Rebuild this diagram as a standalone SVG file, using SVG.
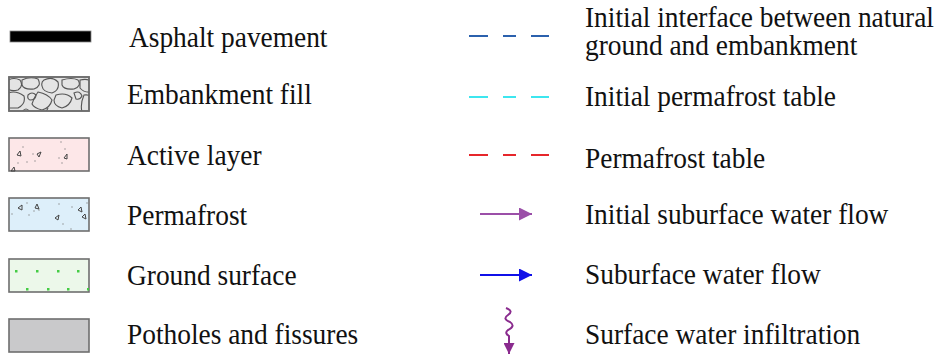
<svg xmlns="http://www.w3.org/2000/svg" width="939" height="354" viewBox="0 0 939 354">
<style>
.t{font-family:"Liberation Serif","Times New Roman",serif;font-size:27.4px;fill:#111}
.box{stroke:#6e6e6e;stroke-width:1.6}
.rock{fill:none;stroke:#555;stroke-width:1.1}
.tri{fill:none;stroke:#444;stroke-width:1}
.dot{fill:#888}
.gdot{fill:#44cc44}
</style>
<defs>
<clipPath id="ce"><rect x="9" y="77" width="80" height="34"/></clipPath>
<marker id="mp" viewBox="0 0 10 10" refX="10" refY="5" markerWidth="14" markerHeight="13" markerUnits="userSpaceOnUse" orient="auto"><path d="M0,0L10,5L0,10Z" fill="#9b4fa8"/></marker>
<marker id="mb" viewBox="0 0 10 10" refX="10" refY="5" markerWidth="14" markerHeight="13" markerUnits="userSpaceOnUse" orient="auto"><path d="M0,0L10,5L0,10Z" fill="#1010e8"/></marker>
<marker id="mw" viewBox="0 0 10 10" refX="10" refY="5" markerWidth="14" markerHeight="11" markerUnits="userSpaceOnUse" orient="auto"><path d="M0,0L10,5L0,10Z" fill="#8a2b8e"/></marker>
</defs>

<g id="asphalt">
<rect x="10" y="31" width="81" height="11" fill="#000" stroke="#888" stroke-width="0.8"/>
<text class="t" transform="matrix(1 0 0 1.08 129 47)">Asphalt pavement</text>
</g>

<g id="embankment">
<rect x="9" y="77" width="80" height="34" fill="#e4e4e4" class="box"/>
<g clip-path="url(#ce)" class="rock">
<path d="M8,80 Q14,77 20,80 Q24,86 18,90 Q10,92 8,88"/>
<path d="M22,80 Q30,76 38,79 Q42,86 34,89 Q24,90 22,85Z"/>
<path d="M44,80 Q52,76 58,82 Q60,90 52,93 Q43,92 42,86 Q41,82 44,80Z"/>
<path d="M62,80 Q72,77 78,80 Q82,86 74,89 Q64,90 62,85Z"/>
<path d="M80,80 Q88,78 92,82 L92,92 Q84,93 80,88Z"/>
<path d="M8,93 Q16,90 24,96 Q26,104 18,108 L8,108"/>
<path d="M28,95 Q32,91 36,95 Q36,100 30,100 Q27,99 28,95Z"/>
<path d="M38,92 Q48,94 52,100 Q50,108 42,110 Q34,108 32,104 Q34,97 38,92Z"/>
<path d="M56,95 Q66,92 72,98 Q70,106 62,108 Q54,106 54,100Z"/>
<path d="M74,93 Q80,90 82,96 Q80,100 76,99Z"/>
<path d="M84,95 Q92,94 92,100 L92,112 L82,112 Q80,104 84,95Z"/>
<path d="M22,112 Q26,106 30,112"/>
<path d="M46,112 L48,108"/>
</g>
<rect x="9" y="77" width="80" height="34" fill="none" class="box"/>
<text class="t" transform="matrix(1 0 0 1.08 127 104)">Embankment fill</text>
</g>

<g id="active">
<rect x="9" y="138" width="80" height="33" fill="#fde7e8" class="box"/>
<path class="tri" d="M17,155 L20,151 L21,156Z M37,154 L41,152 L39,157Z M64,158 L67,154 L67,159Z M11,171 L14,167 L15,171Z"/>
<circle class="dot" cx="23" cy="147" r="0.7"/><circle class="dot" cx="33" cy="154" r="0.7"/>
<circle class="dot" cx="18" cy="163" r="0.7"/><circle class="dot" cx="27" cy="162" r="0.7"/>
<circle class="dot" cx="35" cy="161" r="0.7"/><circle class="dot" cx="61" cy="142" r="0.7"/>
<circle class="dot" cx="65" cy="149" r="0.7"/><circle class="dot" cx="59" cy="158" r="0.7"/>
<circle class="dot" cx="62" cy="163" r="0.7"/>
<text class="t" transform="matrix(1 0 0 1.08 127 165)">Active layer</text>
</g>

<g id="permafrost">
<rect x="9" y="198" width="80" height="33" fill="#ddeffa" class="box"/>
<path class="tri" d="M18,208 L22,205 L22,210Z M35,208 L37,204 L39,209Z M55,218 L59,215 L58,220Z M78,210 L81,207 L82,212Z M82,217 L85,214 L86,219Z"/>
<circle class="dot" cx="27" cy="203" r="0.7"/><circle class="dot" cx="29" cy="215" r="0.7"/>
<circle class="dot" cx="34" cy="211" r="0.7"/><circle class="dot" cx="39" cy="210" r="0.7"/>
<circle class="dot" cx="59" cy="204" r="0.7"/><circle class="dot" cx="72" cy="207" r="0.7"/>
<circle class="dot" cx="63" cy="224" r="0.7"/><circle class="dot" cx="71" cy="229" r="0.7"/>
<circle class="dot" cx="12" cy="214" r="0.7"/><circle class="dot" cx="87" cy="203" r="0.7"/>
<text class="t" transform="matrix(1 0 0 1.08 127 225)">Permafrost</text>
</g>

<g id="ground">
<rect x="9" y="259" width="80" height="33" fill="#ecf8ea" class="box"/>
<rect class="gdot" x="15" y="270" width="2.5" height="2.5"/><rect class="gdot" x="36" y="270" width="2.5" height="2.5"/>
<rect class="gdot" x="57" y="270" width="2.5" height="2.5"/><rect class="gdot" x="77" y="270" width="2.5" height="2.5"/>
<rect class="gdot" x="26" y="288" width="2.5" height="2.5"/><rect class="gdot" x="47" y="288" width="2.5" height="2.5"/>
<rect class="gdot" x="67" y="288" width="2.5" height="2.5"/><rect class="gdot" x="87" y="288" width="2" height="2.5"/>
<text class="t" transform="matrix(1 0 0 1.08 127 285)">Ground surface</text>
</g>

<g id="potholes">
<rect x="9" y="319" width="80" height="33" fill="#c9c9cb" class="box"/>
<text class="t" transform="matrix(1 0 0 1.08 127 344)">Potholes and fissures</text>
</g>

<g id="interface">
<text class="t" transform="matrix(1 0 0 1.08 585 27)">Initial interface between natural</text>
<text class="t" transform="matrix(1 0 0 1.08 585 55)">ground and embankment</text>
</g>
<g id="init-table"><text class="t" transform="matrix(1 0 0 1.08 585 106)">Initial permafrost table</text></g>
<g id="table"><text class="t" transform="matrix(1 0 0 1.08 585 168)">Permafrost table</text></g>
<g id="init-flow"><text class="t" transform="matrix(1 0 0 1.08 585 224)">Initial suburface water flow</text></g>
<g id="flow"><text class="t" transform="matrix(1 0 0 1.08 585 284)">Suburface water flow</text></g>
<g id="infiltration"><text class="t" transform="matrix(1 0 0 1.08 585 344)">Surface water infiltration</text></g>

<g id="connectors" stroke-width="2.2" fill="none">
<path d="M469,36H488M503,36H516M531,36H549" stroke="#2b61ad"/>
<path d="M469,97H488M503,97H516M531,97H549" stroke="#3de6ef"/>
<path d="M469,155H488M503,155H516M531,155H549" stroke="#e6262b"/>
<path d="M480,214H532" stroke="#9b4fa8" stroke-width="2" marker-end="url(#mp)"/>
<path d="M480,275H532" stroke="#1010e8" stroke-width="2" marker-end="url(#mb)"/>
<path d="M506,308 Q514,311 508,315 Q502,319 510,322 Q516,326 508,330 Q504,333 509,336 L509,354" stroke="#8a2b8e" stroke-width="2" marker-end="url(#mw)"/>
</g>
</svg>
